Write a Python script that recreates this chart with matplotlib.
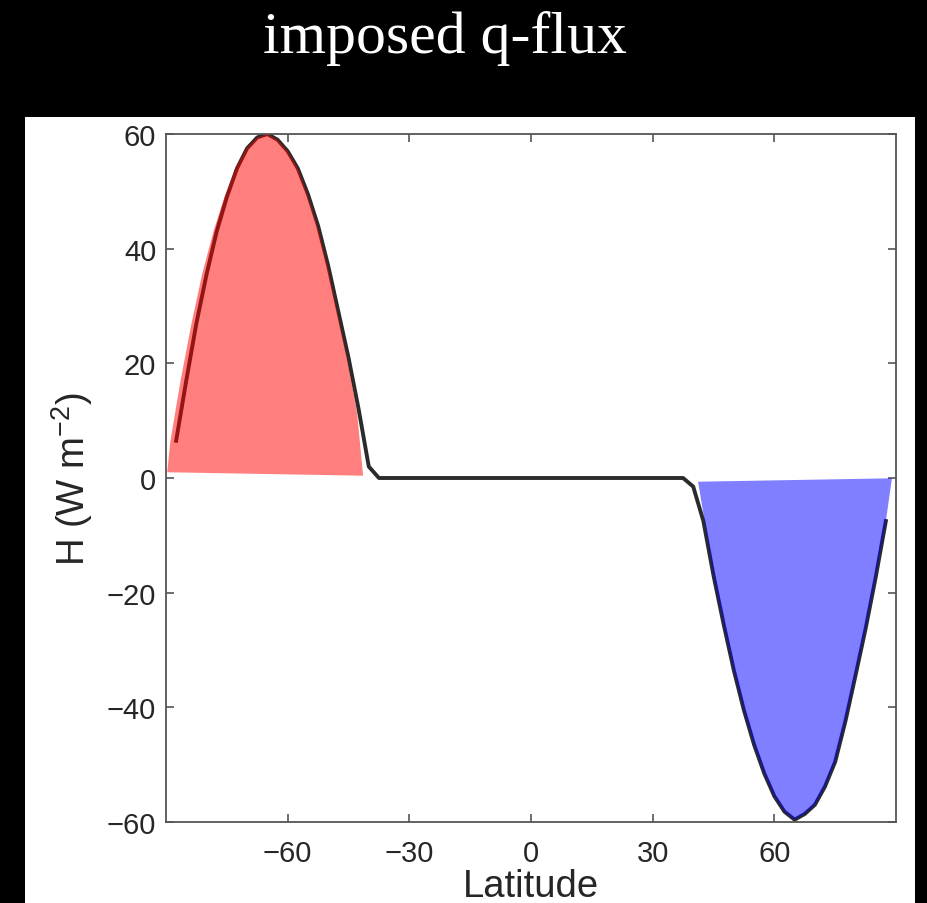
import matplotlib
matplotlib.use('Agg')
from matplotlib import pyplot as plt
from matplotlib.patches import Rectangle

# latitude grid of the q-flux profile (degrees)
lat = [-87.5, -85.0, -82.5, -80.0, -77.5, -75.0, -72.5, -70.0, -67.5, -65.0,
       -62.5, -60.0, -57.5, -55.0, -52.5, -50.0, -47.5, -45.0, -42.5, -40.0,
       -37.5, -35.0, -32.5, -30.0, -27.5, -25.0, -22.5, -20.0, -17.5, -15.0,
       -12.5, -10.0, -7.5, -5.0, -2.5, 0.0, 2.5, 5.0, 7.5, 10.0,
       12.5, 15.0, 17.5, 20.0, 22.5, 25.0, 27.5, 30.0, 32.5, 35.0,
       37.5, 40.0, 42.5, 45.0, 47.5, 50.0, 52.5, 55.0, 57.5, 60.0,
       62.5, 65.0, 67.5, 70.0, 72.5, 75.0, 77.5, 80.0, 82.5, 85.0,
       87.5]

# imposed heat flux H (W m-2)
H = [6.5, 17.0, 27.0, 35.5, 43.0, 49.0, 54.0, 57.5, 59.4, 60.0,
     59.0, 57.0, 54.0, 49.5, 44.0, 37.0, 29.0, 21.0, 12.0, 2.0,
     0.0, 0.0, 0.0, 0.0, 0.0, 0.0, 0.0, 0.0, 0.0, 0.0,
     0.0, 0.0, 0.0, 0.0, 0.0, 0.0, 0.0, 0.0, 0.0, 0.0,
     0.0, 0.0, 0.0, 0.0, 0.0, 0.0, 0.0, 0.0, 0.0, 0.0,
     0.0, -1.5, -7.5, -17.0, -25.5, -33.5, -40.5, -46.5, -51.5, -55.5,
     -58.2, -59.6, -58.6, -57.0, -53.8, -49.5, -42.5, -34.5, -26.3, -17.3,
     -7.5]

# shaded outline of the southern (heating) lobe
south_lat = [-89.7, -88.9, -86.4, -83.7, -81.1, -78.3, -75.6, -72.9, -70.2, -67.5,
             -65.0, -62.5, -60.0, -57.5, -55.2, -52.7, -50.2, -47.8, -45.4, -42.9,
             -41.4]
south_h = [1.0, 6.5, 17.0, 27.0, 35.5, 43.0, 49.0, 54.0, 57.5, 59.4,
           60.0, 59.0, 57.0, 54.0, 49.5, 44.0, 37.0, 29.0, 21.0, 11.5,
           0.4]

# shaded outline of the northern (cooling) lobe
north_lat = [41.2, 42.8, 45.0, 47.5, 50.0, 52.5, 55.0, 57.5, 60.0, 62.5,
             65.0, 67.5, 70.0, 72.5, 75.0, 77.5, 80.0, 82.5, 85.0, 87.5,
             89.0]
north_h = [-0.65, -7.5, -17.0, -25.5, -33.5, -40.5, -46.5, -51.5, -55.5, -58.2,
           -59.6, -58.6, -57.0, -53.8, -49.5, -42.5, -34.5, -26.3, -17.3, -7.5,
           -0.05]

xticks = [-60, -30, 0, 30, 60]
yticks = [-60, -40, -20, 0, 20, 40, 60]

plt.rcParams['mathtext.fontset'] = 'custom'
plt.rcParams['mathtext.rm'] = 'Liberation Sans'

W, Hpx = 927, 904
fig = plt.figure(figsize=(W / 100, Hpx / 100), dpi=100, facecolor='black')

# white panel behind the axes
fig.patches.append(Rectangle((25 / W, 0), 890 / W, 786 / Hpx,
                             transform=fig.transFigure, facecolor='white',
                             edgecolor='none', zorder=-10))

ax = fig.add_axes([166 / W, (Hpx - 823) / Hpx, 730 / W, 688 / Hpx])
ax.set_facecolor('white')

# profile first, translucent lobes on top so the line shows through tinted
ax.plot(lat, H, color='#2b2b2b', lw=2.8, solid_joinstyle='round', zorder=2)
ax.fill(south_lat, south_h, color='red', alpha=0.5, lw=0, zorder=3)
ax.fill(north_lat, north_h, color='blue', alpha=0.5, lw=0, zorder=3)

ax.set_xlim(-90, 90)
ax.set_ylim(-60, 60)
ax.set_xticks(xticks)
ax.set_yticks(yticks)

spine_col = '#555555'
for s in ax.spines.values():
    s.set_color(spine_col)
    s.set_linewidth(1.3)
    s.set_zorder(5)

ax.tick_params(direction='in', length=6, width=1.2, color=spine_col,
               top=True, right=True, labelsize=21, labelcolor='#262626',
               labelfontfamily='Liberation Sans')
ax.tick_params(axis='x', pad=12)
ax.tick_params(axis='y', pad=7)

ax.set_xlabel('Latitude', fontsize=27.5, color='#262626', family='Liberation Sans')
ax.xaxis.label.set_va('baseline')
ax.xaxis.set_label_coords(0.5, -0.108)

ax.set_ylabel('H (W m$^{-2}$)', fontsize=27.5, color='#262626', family='Liberation Sans')
ax.yaxis.set_label_coords(-0.097, 0.5)

fig.text(445 / W, 1 - 53 / Hpx, 'imposed q-flux', color='white', fontsize=43,
         family='Liberation Serif', ha='center', va='baseline')

fig.savefig('out.png', dpi=100, facecolor='black')
